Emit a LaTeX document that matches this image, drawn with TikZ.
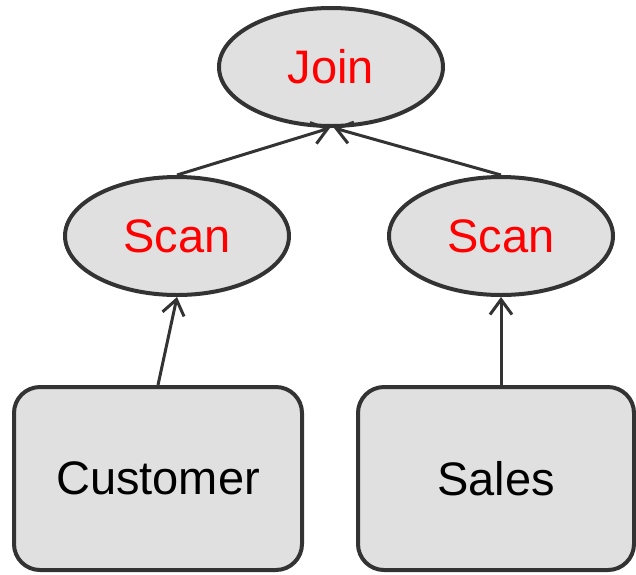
\documentclass[tikz,border=0pt]{standalone}
\usepackage{fontspec}
\setmainfont{Liberation Sans}
\usetikzlibrary{shapes.geometric, arrows.meta}
\definecolor{opfill}{HTML}{E0E0E0}
\definecolor{opline}{HTML}{333333}

\begin{document}
\begin{tikzpicture}[x=1pt, y=-1pt,
  oper/.style={ellipse, draw=opline, fill=opfill, line width=4pt,
    minimum width=224pt, minimum height=118pt, inner sep=0pt,
    text=red, font=\fontsize{47}{56}\selectfont},
  tbl/.style={rectangle, draw=opline, fill=opfill, line width=4pt,
    rounded corners=26pt, minimum height=183pt, inner sep=0pt,
    font=\fontsize{47}{56}\selectfont},
  flow/.style={draw=opline, line width=3pt,
    -{Straight Barb[length=15pt, width=22pt, line width=3pt]}}]
  \useasboundingbox (0,0) rectangle (636,574);
  % plan operators
  \node[oper] (join)  at (331,67)  {Join};
  \node[oper] (scanL) at (177,236) {Scan};
  \node[oper] (scanR) at (501,236) {Scan};
  % base tables
  \node[tbl, minimum width=288pt] (cust)  at (158,478.5) {Customer};
  \node[tbl, minimum width=276pt] (sales) at (496,478.5) {Sales};
  % data flows upward
  \draw[flow] (cust.north) -- (scanL.south);
  \draw[flow] (sales.north -| scanR) -- (scanR.south);
  \draw[flow] (scanL.north) -- ([xshift=-1pt]join.south);
  \draw[flow] (scanR.north) -- ([xshift=3pt]join.south);
\end{tikzpicture}
\end{document}
